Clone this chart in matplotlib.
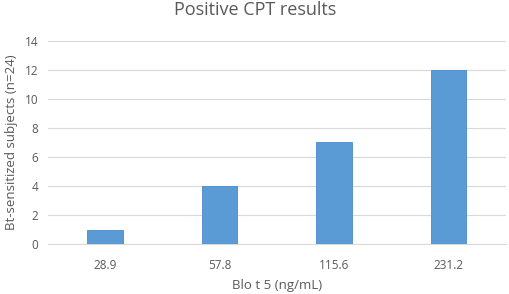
import matplotlib.pyplot as plt

# Data
concentrations = ["28.9", "57.8", "115.6", "231.2"]
positive_counts = [1, 4, 7, 12]
y_ticks = [0, 2, 4, 6, 8, 10, 12, 14]

BAR_COLOR = "#5B9BD5"
TEXT_COLOR = "#595959"
GRID_COLOR = "#D9D9D9"

plt.rcParams["font.family"] = ["Open Sans", "DejaVu Sans"]

fig = plt.figure(figsize=(5.1, 2.94), dpi=100)
ax = fig.add_axes([0.094, 0.170, 0.898, 0.691])

ax.bar(range(len(concentrations)), positive_counts, width=0.31,
       color=BAR_COLOR, edgecolor="#4A8ACB", linewidth=0.6, zorder=3)

ax.set_xlim(-0.5, len(concentrations) - 0.5)
ax.set_ylim(0, 14)
ax.set_yticks(y_ticks)
ax.set_xticks(range(len(concentrations)))
ax.set_xticklabels(concentrations)
ax.tick_params(axis="both", length=0, colors=TEXT_COLOR, labelsize=8.5)
ax.tick_params(axis="x", pad=11)
ax.tick_params(axis="y", pad=7)

ax.grid(axis="y", color=GRID_COLOR, linewidth=0.8, zorder=0)
for side in ("top", "right", "left"):
    ax.spines[side].set_visible(False)
ax.spines["bottom"].set_color(GRID_COLOR)
ax.spines["bottom"].set_linewidth(0.8)

ax.set_xlabel("Blo t 5 (ng/mL)", color=TEXT_COLOR, fontsize=9.5, labelpad=5)
ax.set_ylabel("Bt-sensitized subjects (n=24)", color=TEXT_COLOR, fontsize=9.5, labelpad=5)
fig.suptitle("Positive CPT results", x=0.5, y=0.995, color=TEXT_COLOR, fontsize=13)

fig.savefig("out.png", dpi=100)
